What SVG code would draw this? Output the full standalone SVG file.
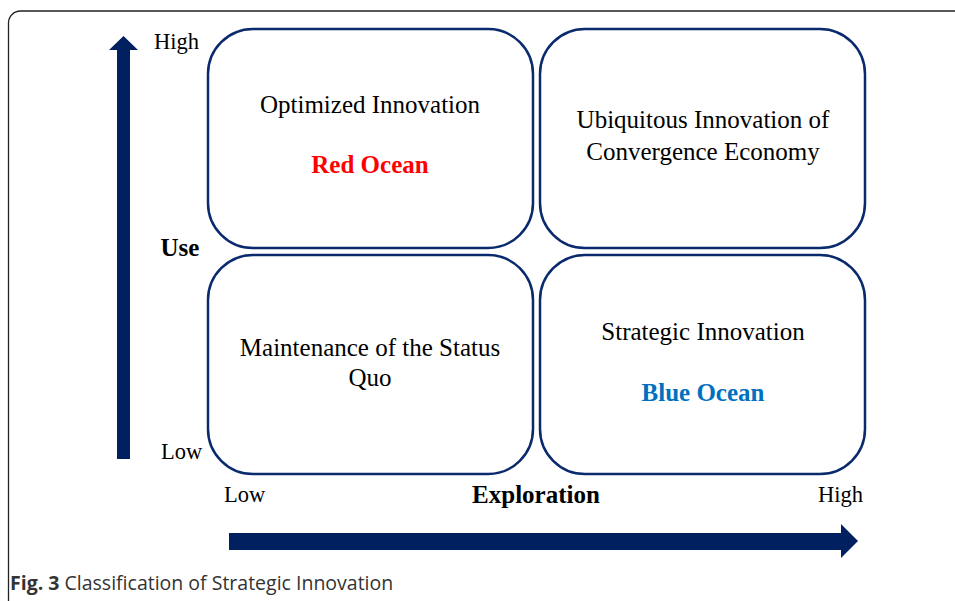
<svg xmlns="http://www.w3.org/2000/svg" width="955" height="601" viewBox="0 0 955 601">
<style>
.box{fill:#fff;stroke:#0a2a6e;stroke-width:2.5}
.t{font-family:"Liberation Serif",serif;font-size:25px;fill:#000;text-anchor:middle}
.ax{font-family:"Liberation Serif",serif;font-size:22.5px;fill:#000}
.b{font-weight:bold}
.arrow{fill:#00205f}
</style>
<rect width="955" height="601" fill="#fff"/>
<path d="M8.5 601 V23 A12 12 0 0 1 20.5 11 H955" fill="none" stroke="#222" stroke-width="1.3"/>
<g id="connectors">
<polygon class="arrow" points="117,459 117,50 109,50 123.5,36 138,50 130,50 130,459"/>
<polygon class="arrow" points="229,533 841,533 841,524 858,541 841,558 841,550 229,550"/>
</g>
<g id="node-tl">
<rect class="box" x="208" y="29" width="325" height="219" rx="45"/>
<text class="t" x="370" y="113">Optimized Innovation</text>
<text class="t b" x="370" y="173" style="fill:#ff0000">Red Ocean</text>
</g>
<g id="node-tr">
<rect class="box" x="540" y="29" width="325" height="219" rx="45"/>
<text class="t" x="703" y="128">Ubiquitous Innovation of</text>
<text class="t" x="703" y="160">Convergence Economy</text>
</g>
<g id="node-bl">
<rect class="box" x="208" y="255" width="325" height="219" rx="45"/>
<text class="t" x="370" y="356">Maintenance of the Status</text>
<text class="t" x="370" y="386">Quo</text>
</g>
<g id="node-br">
<rect class="box" x="540" y="255" width="325" height="219" rx="45"/>
<text class="t" x="703" y="340">Strategic Innovation</text>
<text class="t b" x="703" y="401" style="fill:#0070c0">Blue Ocean</text>
</g>
<g id="axis-labels">
<text class="ax" x="154" y="49">High</text>
<text class="ax b" x="180" y="256" text-anchor="middle" style="font-size:25px">Use</text>
<text class="ax" x="161" y="459">Low</text>
<text class="ax" x="224" y="502">Low</text>
<text class="ax b" x="536" y="503" text-anchor="middle" style="font-size:25px">Exploration</text>
<text class="ax" x="818" y="502">High</text>
</g>
<text x="10" y="590" font-family="'Open Sans',sans-serif" font-size="19.5" fill="#333"><tspan font-weight="bold">Fig. 3</tspan> Classification of Strategic Innovation</text>
</svg>
